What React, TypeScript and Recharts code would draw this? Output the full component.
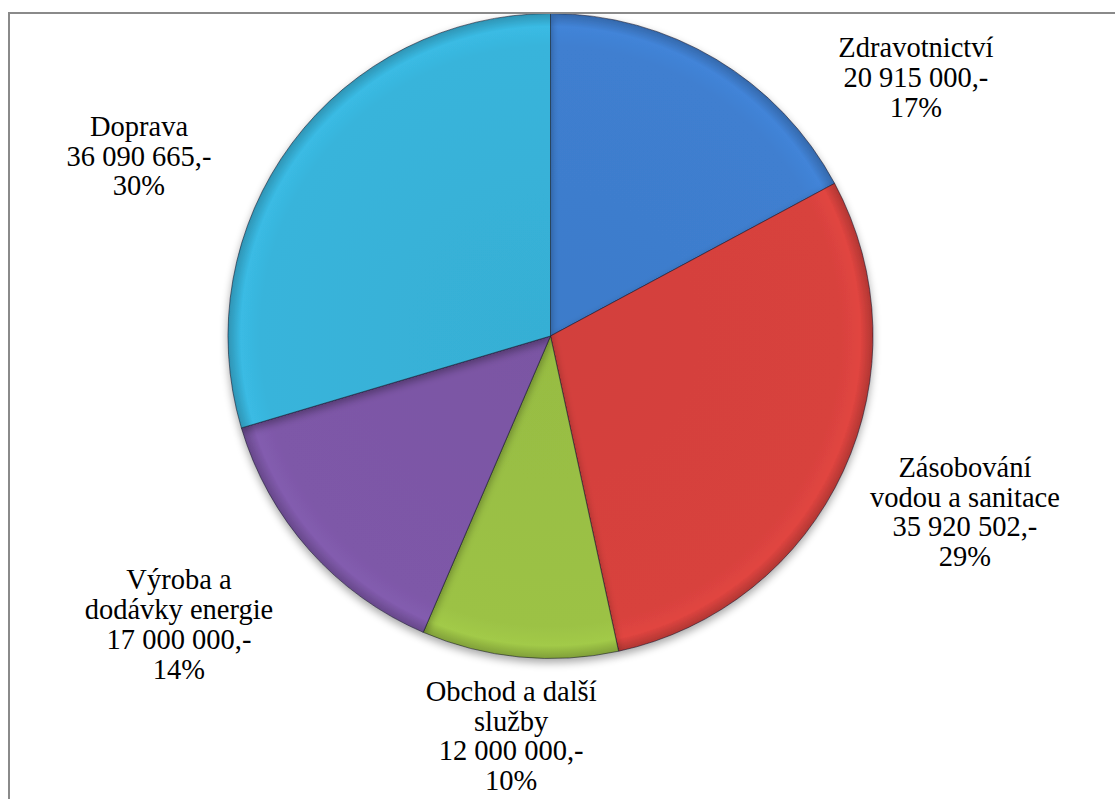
import { Cell, Pie, PieChart } from "recharts";

const categories = [
  "Zdravotnictví",
  "Zásobování\nvodou a sanitace",
  "Obchod a další\nslužby",
  "Výroba a\ndodávky energie",
  "Doprava",
];
const amounts = [20915000, 35920502, 12000000, 17000000, 36090665];
const colors = ["#3f7fd0", "#d8423e", "#9cc245", "#7e58a8", "#38b4db"];

// label block centres, in units of the pie radius from the pie centre
const LABEL_POS = [
  [1.133, -0.801],
  [1.285, 0.546],
  [-0.122, 1.24],
  [-1.152, 0.895],
  [-1.276, -0.558],
];

const W = 1105;
const H = 785;
const CX = 540.5;
const CY = 322;
const R = 322.5;
const LINE = 29.8;
const FONT = "Liberation Serif";

const data = categories.map((name, i) => ({ name, value: amounts[i], color: colors[i] }));

const fmt = (v: number) => String(v).replace(/\B(?=(\d{3})+(?!\d))/g, " ") + ",-";

function SliceLabel(props: any) {
  const { cx, cy, outerRadius, index, value, percent, name } = props;
  const [dx, dy] = LABEL_POS[index];
  const x = cx + dx * outerRadius;
  const y = cy + dy * outerRadius;
  const lines = [...String(name).split("\n"), fmt(value), `${Math.round(percent * 100)}%`];
  const top = y - ((lines.length - 1) / 2) * LINE;
  return (
    <text x={x} y={top} textAnchor="middle" fontSize={28.5} fill="#000" style={{ fontFamily: FONT }}>
      {lines.map((l, i) => (
        <tspan key={i} x={x} y={top + i * LINE} dominantBaseline="central">
          {l}
        </tspan>
      ))}
    </text>
  );
}

function shade(hex: string, f: number) {
  const n = parseInt(hex.slice(1), 16);
  const c = [(n >> 16) & 255, (n >> 8) & 255, n & 255].map((v) => Math.min(255, Math.round(v * f)));
  return `rgb(${c.join(",")})`;
}

export default function App() {
  return (
    <div
      style={{
        position: "absolute",
        left: 8,
        top: 12,
        borderLeft: "2px solid #8a8a8a",
        borderTop: "2px solid #8a8a8a",
        background: "#fff",
      }}
    >
      <PieChart width={W} height={H} margin={{ top: 0, right: 0, bottom: 0, left: 0 }}>
        <defs>
          <filter id="pieShadow" x="-20%" y="-20%" width="140%" height="140%">
            <feGaussianBlur in="SourceAlpha" stdDeviation="4" />
            <feOffset dx="0" dy="4" result="b" />
            <feComponentTransfer>
              <feFuncA type="linear" slope="0.35" />
            </feComponentTransfer>
            <feMerge>
              <feMergeNode />
              <feMergeNode in="SourceGraphic" />
            </feMerge>
          </filter>
          {colors.map((c, i) => (
            <radialGradient key={i} id={`g${i}`} gradientUnits="userSpaceOnUse" cx={CX} cy={CY} r={R}>
              <stop offset="0%" stopColor={shade(c, 0.97)} />
              <stop offset="90%" stopColor={c} />
              <stop offset="96%" stopColor={shade(c, 1.04)} />
              <stop offset="100%" stopColor={shade(c, 0.82)} />
            </radialGradient>
          ))}
        </defs>
        <Pie
          data={data}
          dataKey="value"
          nameKey="name"
          cx={CX}
          cy={CY}
          innerRadius={0}
          outerRadius={R}
          startAngle={90}
          endAngle={-270}
          stroke="rgba(20,20,40,0.55)"
          strokeWidth={1}
          label={SliceLabel}
          labelLine={false}
          isAnimationActive={false}
          style={{ filter: "url(#pieShadow)" }}
        >
          {data.map((d, i) => (
            <Cell key={i} fill={`url(#g${i})`} />
          ))}
        </Pie>
      </PieChart>
    </div>
  );
}
